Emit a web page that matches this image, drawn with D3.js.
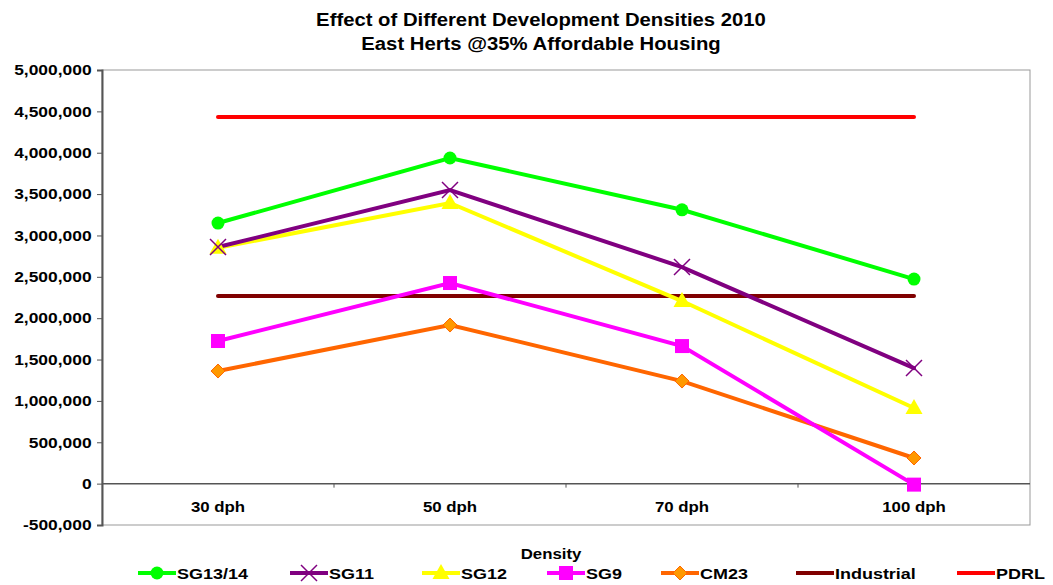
<!DOCTYPE html>
<html><head><meta charset="utf-8">
<script src="https://cdn.jsdelivr.net/npm/d3@7"></script>
<style>body{margin:0;background:#fff}svg{display:block}text{font-family:"Liberation Sans",Arial,sans-serif;font-weight:bold}</style>
</head><body><svg id="c" width="1053" height="585"></svg>
<script>
const categories = ["30 dph","50 dph","70 dph","100 dph"];
const yTicks = [-500000,0,500000,1000000,1500000,2000000,2500000,3000000,3500000,4000000,4500000,5000000];
const seriesNames = ["SG13/14","SG11","SG12","SG9","CM23","Industrial","PDRL"];
const sg1314 = [3150000,3936000,3310000,2473000];
const sg11 = [2860000,3549000,2618000,1397000];
const sg12 = [2850000,3392000,2207000,914000];
const sg9 = [1724000,2425000,1663000,-12000];
const cm23 = [1361000,1917000,1240000,310000];
const industrial = [2268000,2268000,2268000,2268000];
const pdrl = [4432000,4432000,4432000,4432000];

const series = [
  {name:seriesNames[0], values:sg1314, color:"#00ff00", marker:"circle"},
  {name:seriesNames[1], values:sg11, color:"#800080", marker:"x"},
  {name:seriesNames[2], values:sg12, color:"#ffff00", marker:"triangle"},
  {name:seriesNames[3], values:sg9, color:"#ff00ff", marker:"square"},
  {name:seriesNames[4], values:cm23, color:"#ff6600", marker:"diamond", fill:"#ff9900"},
  {name:seriesNames[5], values:industrial, color:"#800000", marker:null},
  {name:seriesNames[6], values:pdrl, color:"#ff0000", marker:null}
];

const SX = 1.16; // horizontal stretch of text
const svg = d3.select("#c");
const L=102, R=1030, T=70, B=525;
const x = d3.scaleBand().domain(categories).range([L,R]);
const y = d3.scaleLinear().domain([-500000,5000000]).range([B,T]);
const fmt = d => d3.format(",")(d).replace("\u2212","-");

function stext(g, tx, ty, str, size, anchor){
  return g.append("text").attr("transform",`translate(${tx},${ty}) scale(${SX},1)`)
    .attr("text-anchor",anchor||"start").attr("font-size",size).text(str);
}

// plot border
svg.append("rect").attr("x",L).attr("y",T).attr("width",R-L).attr("height",B-T)
  .attr("fill","none").attr("stroke","#999").attr("stroke-width",1);

// y axis
const ya = svg.append("g").attr("transform",`translate(${L},0)`)
  .call(d3.axisLeft(y).tickValues(yTicks).tickSize(5).tickPadding(4).tickFormat(fmt));
ya.select(".domain").attr("stroke","#555").attr("stroke-width",2);
ya.selectAll(".tick line").attr("stroke","#555");
ya.selectAll("text").attr("font-size",15).attr("fill","#000")
  .attr("font-family","Liberation Sans, Arial, sans-serif").attr("font-weight","bold")
  .attr("transform",`scale(${SX},1)`);

// x axis at 0
const xg = svg.append("g").attr("transform",`translate(0,${y(0)})`);
xg.append("line").attr("x1",L).attr("x2",R).attr("y1",0).attr("y2",0).attr("stroke","#555").attr("stroke-width",1.5);
const bounds = categories.slice(1).map(c=>x(c));
xg.selectAll(".xt").data(bounds).join("line").attr("x1",d=>d).attr("x2",d=>d).attr("y1",0).attr("y2",4).attr("stroke","#555");
categories.forEach(c=>stext(xg, x(c)+x.bandwidth()/2, 28.5, c, 14.5, "middle"));

// titles
stext(svg, 541, 26, "Effect of Different Development Densities 2010", 17.5, "middle");
stext(svg, 541, 50, "East Herts @35% Affordable Housing", 17.5, "middle");
stext(svg, 551, 559, "Density", 14.5, "middle");

function drawMarker(g, s, cx, cy){
  if(!s.marker) return;
  const m = s.marker;
  if(m==="circle") g.append("circle").attr("cx",cx).attr("cy",cy).attr("r",6.5).attr("fill",s.color);
  else if(m==="square") g.append("rect").attr("x",cx-7).attr("y",cy-7).attr("width",14).attr("height",14).attr("fill",s.color);
  else if(m==="triangle") g.append("path").attr("d",`M${cx},${cy-9}L${cx+8.5},${cy+6}L${cx-8.5},${cy+6}Z`).attr("fill",s.color);
  else if(m==="diamond") g.append("path").attr("d",`M${cx},${cy-7}L${cx+7},${cy}L${cx},${cy+7}L${cx-7},${cy}Z`).attr("fill",s.fill||s.color).attr("stroke",s.color).attr("stroke-width",1);
  else if(m==="x") g.append("path").attr("d",`M${cx-8},${cy-8}L${cx+8},${cy+8}M${cx-8},${cy+8}L${cx+8},${cy-8}`).attr("stroke",s.color).attr("stroke-width",1.5);
}

const line = d3.line().x((d,i)=>x(categories[i])+x.bandwidth()/2).y(d=>y(d));
const drawOrder = [6,5,4,3,2,1,0];
drawOrder.forEach(i=>{
  const s = series[i];
  svg.append("path").attr("d",line(s.values)).attr("fill","none").attr("stroke",s.color).attr("stroke-width",4).attr("stroke-linecap","round");
});
drawOrder.forEach(i=>{
  const s = series[i];
  const g = svg.append("g");
  s.values.forEach((v,j)=>drawMarker(g,s,x(categories[j])+x.bandwidth()/2,y(v)));
});

// legend
const legendX = [138,290,422,547,661,796,957];
const ly = 573;
series.forEach((s,i)=>{
  const g = svg.append("g");
  const x0 = legendX[i];
  g.append("line").attr("x1",x0).attr("x2",x0+38).attr("y1",ly).attr("y2",ly).attr("stroke",s.color).attr("stroke-width",4);
  drawMarker(g,s,x0+19,ly);
  stext(g, x0+39, ly+6, s.name, 15.5, "start");
});
</script></body></html>
